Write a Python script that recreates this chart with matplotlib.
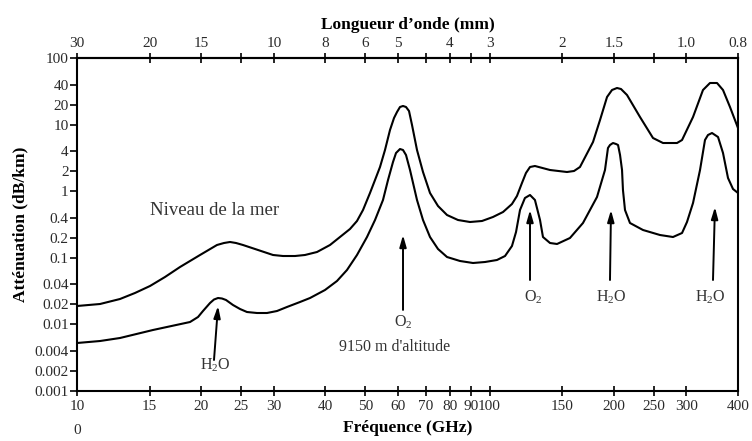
import matplotlib
matplotlib.use("Agg")
import matplotlib.pyplot as plt
from matplotlib.ticker import NullLocator

plt.rcParams['font.family'] = ['Liberation Serif', 'DejaVu Serif']
plt.rcParams['mathtext.fontset'] = 'custom'
plt.rcParams['mathtext.rm'] = 'Liberation Serif'
plt.rcParams['mathtext.it'] = 'Liberation Serif:italic'
plt.rcParams['mathtext.bf'] = 'Liberation Serif:bold'

# ---- data ----
# Sea level curve
sea_freq = [10.0, 11.37, 12.71, 13.82, 15.03, 16.34, 17.77, 19.87, 21.84, 22.71,
            23.49, 24.29, 25.25, 27.46, 29.86, 31.57, 33.76, 35.69, 38.17, 41.04,
            43.39, 45.88, 47.71, 49.34, 51.30, 52.76, 54.25, 55.78, 57.36, 58.66,
            59.65, 60.65, 61.68, 62.72, 63.78, 64.86, 66.69, 68.96, 71.71, 74.98,
            78.85, 83.83, 89.64, 95.85, 101.9, 107.8, 113.3, 116.5, 119.8, 122.5,
            125.3, 128.8, 140.1, 154.0, 160.2, 165.6, 178.1, 185.2, 192.6, 198.0,
            203.6, 208.2, 215.3, 231.5, 248.9, 263.2, 284.6, 292.7, 311.2, 329.0,
            342.1, 355.8, 367.9, 382.5, 400.0]
sea_att = [0.01889, 0.02024, 0.02406, 0.02962, 0.03773, 0.05148, 0.07276, 0.1102, 0.1557, 0.1668,
           0.1727, 0.1668, 0.1557, 0.1310, 0.1102, 0.1064, 0.1064, 0.1102, 0.1222, 0.1557,
           0.2052, 0.2707, 0.3570, 0.5221, 0.9397, 1.473, 2.309, 4.156, 8.296, 12.56,
           15.46, 18.38, 19.03, 18.38, 16.00, 9.863, 4.156, 1.942, 0.9397, 0.5995,
           0.4391, 0.3694, 0.3447, 0.3570, 0.4099, 0.4871, 0.6424, 0.8471, 1.328, 1.876,
           2.309, 2.390, 2.081, 1.942, 2.011, 2.309, 5.479, 11.72, 25.97, 33.07,
           35.44, 34.23, 27.83, 13.00, 6.292, 5.292, 5.292, 5.871, 13.00, 33.07,
           42.14, 42.14, 33.07, 18.38, 8.890]

# 9150 m altitude curve
alt_freq = [10.0, 11.37, 12.71, 15.28, 18.79, 19.65, 20.20, 21.01, 21.48, 21.97,
            22.46, 22.97, 23.88, 24.84, 25.82, 27.31, 28.87, 30.53, 32.28, 34.71,
            36.71, 39.91, 42.67, 45.12, 47.71, 50.45, 52.76, 55.16, 56.73, 58.33,
            59.32, 60.65, 61.68, 62.72, 64.14, 66.69, 68.96, 71.71, 74.98, 78.85,
            84.78, 91.16, 97.47, 104.2, 109.0, 113.3, 115.9, 118.5, 121.8, 125.3,
            128.8, 132.5, 134.7, 140.1, 145.7, 156.6, 168.4, 182.1, 190.4, 193.6,
            195.8, 199.1, 202.5, 204.8, 207.1, 209.4, 210.5, 212.9, 218.9, 235.4,
            258.8, 278.3, 292.7, 300.9, 311.2, 323.6, 332.7, 338.3, 346.0, 357.8,
            367.9, 378.3, 389.0, 400.0]
alt_att = [0.005256, 0.005630, 0.006248, 0.008240, 0.01086, 0.01292, 0.01589, 0.02096, 0.02364, 0.02491,
           0.02449, 0.02325, 0.01956, 0.01703, 0.01535, 0.01483, 0.01483, 0.01589, 0.01826, 0.02169,
           0.02491, 0.03285, 0.04484, 0.06560, 0.1102, 0.2052, 0.3694, 0.7376, 1.473, 2.744,
           3.746, 4.300, 4.156, 3.495, 2.081, 0.7376, 0.3694, 0.2052, 0.1356, 0.1028,
           0.08953, 0.08355, 0.08648, 0.09268, 0.1064, 0.1504, 0.2440, 0.5221, 0.7905, 0.8768,
           0.7376, 0.3694, 0.2052, 0.1668, 0.1612, 0.1983, 0.3331, 0.8183, 2.081, 4.453,
           4.940, 5.292, 5.113, 4.940, 3.495, 2.081, 1.042, 0.5221, 0.3331, 0.2615,
           0.2199, 0.2052, 0.2357, 0.3447, 0.6649, 2.081, 5.871, 6.979, 7.479, 6.513,
           3.746, 1.578, 1.079, 0.9397]

freq_ticks = [10, 15, 20, 25, 30, 40, 50, 60, 70, 80, 90, 100, 150, 200, 250, 300, 400]
freq_labels = ['10', '15', '20', '25', '30', '40', '50', '60', '70', '80', '90', '100',
               '150', '200', '250', '300', '400']
wave_labels = ['30', '20', '15', '', '10', '8', '6', '5', '', '4', '', '3', '2', '1.5',
               '', '1.0', '0.8']
att_ticks = [100, 40, 20, 10, 4, 2, 1, 0.4, 0.2, 0.1, 0.04, 0.02, 0.01, 0.004, 0.002, 0.001]
att_labels = ['100', '40', '20', '10', '4', '2', '1', '0.4', '0.2', '0.1', '0.04', '0.02',
              '0.01', '0.004', '0.002', '0.001']

# ---- figure ----
fig = plt.figure(figsize=(7.52, 4.41), dpi=100)
ax = fig.add_axes([77 / 752, 1 - 391 / 441, 661 / 752, 333 / 441])

ax.plot(sea_freq, sea_att, color='black', lw=1.5, solid_joinstyle='round')
ax.plot(alt_freq, alt_att, color='black', lw=1.5, solid_joinstyle='round')

ax.set_xscale('log')
ax.set_yscale('log')
ax.set_xlim(10, 400)
ax.set_ylim(0.001, 100)

ax.set_xticks(freq_ticks, labels=freq_labels)
ax.set_yticks(att_ticks, labels=att_labels)
ax.xaxis.set_minor_locator(NullLocator())
ax.yaxis.set_minor_locator(NullLocator())

tick_color = '#2a2a2a'
ax.tick_params(axis='x', direction='inout', length=7, width=1.2, labelsize=11,
               labelcolor=tick_color, pad=3)
ax.tick_params(axis='y', direction='out', length=5, width=1.2, labelsize=11,
               labelcolor=tick_color, pad=1)
for s in ax.spines.values():
    s.set_linewidth(1.5)

sec = ax.secondary_xaxis('top')
sec.set_xticks(freq_ticks, labels=wave_labels)
sec.xaxis.set_minor_locator(NullLocator())
sec.tick_params(axis='x', direction='inout', length=7, width=1.2, labelsize=11,
                labelcolor=tick_color, pad=2)
sec.spines['top'].set_linewidth(1.5)
sec.set_xlabel('Longueur d\u2019onde (mm)', fontsize=12.5, fontweight='bold', labelpad=6)

ax.set_xlabel('Fréquence (GHz)', fontsize=12.5, fontweight='bold', labelpad=5)
ax.set_ylabel('Atténuation (dB/km)', fontsize=12.5, fontweight='bold', labelpad=4)

fig.text(77 / 752, 1 - 430 / 441, '0', fontsize=11, color=tick_color, ha='center', va='center')

# ---- annotations ----
arrow_kw = dict(arrowstyle='-|>,head_length=0.7,head_width=0.2', color='black', lw=1.4,
                shrinkA=0, shrinkB=0)
txt_kw = dict(fontsize=11.5, color='#333333', ha='center', va='center')

ax.annotate('', xy=(21.97, 0.0189), xytext=(21.48, 0.00292), arrowprops=arrow_kw)
ax.text(21.6, 0.00245, 'H$_2$O', **txt_kw)

ax.annotate('', xy=(61.68, 0.22), xytext=(61.68, 0.0165), arrowprops=arrow_kw)
ax.text(61.68, 0.0109, 'O$_2$', **txt_kw)
ax.text(59.0, 0.00458, "9150 m d'altitude", **txt_kw)

ax.annotate('', xy=(125.3, 0.522), xytext=(125.3, 0.0464), arrowprops=arrow_kw)
ax.text(127.4, 0.0258, 'O$_2$', **txt_kw)

ax.annotate('', xy=(196.9, 0.522), xytext=(195.8, 0.0464), arrowprops=arrow_kw)
ax.text(196.9, 0.0258, 'H$_2$O', **txt_kw)

ax.annotate('', xy=(351.7, 0.579), xytext=(347.9, 0.0464), arrowprops=arrow_kw)
ax.text(342.2, 0.0258, 'H$_2$O', **txt_kw)

ax.text(21.6, 0.522, 'Niveau de la mer', fontsize=13.5, color='#333333', ha='center', va='center')

fig.savefig('out.png', dpi=100)
